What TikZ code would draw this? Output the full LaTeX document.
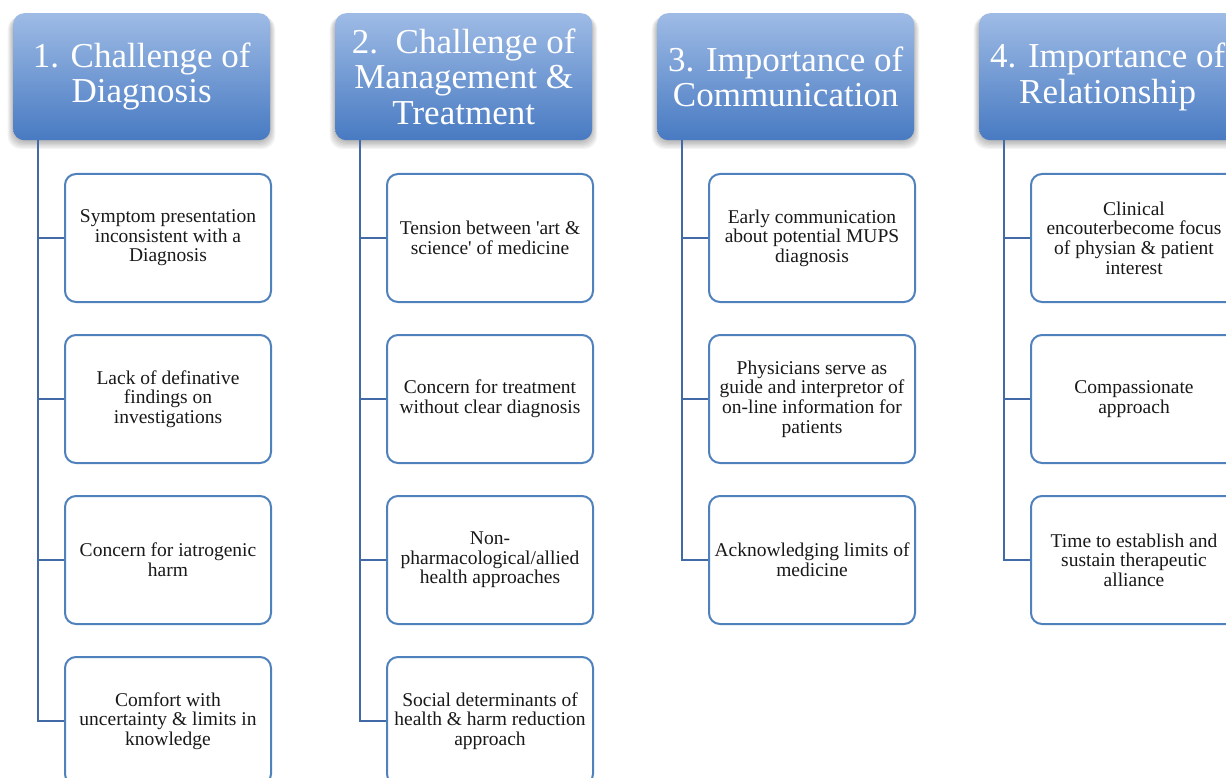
\documentclass[tikz,border=0pt]{standalone}
\usepackage{fontspec}
\setmainfont{Liberation Serif}
\definecolor{hdtop}{RGB}{158,187,229}
\definecolor{hdbot}{RGB}{72,122,194}
\definecolor{boxline}{RGB}{79,129,189}
\definecolor{connline}{RGB}{66,106,166}
\tikzset{
  hdr/.style={rounded corners=11pt, minimum width=257pt, minimum height=127pt,
    top color=hdtop, bottom color=hdbot, anchor=north west, inner sep=0pt,
    text=white, align=center, font=\fontsize{35}{35.5}\selectfont},
  shade layer/.style={fill=black, opacity=0.045, rounded corners=13pt},
  item/.style={rounded corners=11pt, draw=boxline, line width=2pt, fill=white,
    minimum width=206pt, minimum height=128pt, anchor=north west, inner sep=0pt,
    align=center, font=\fontsize{19.5}{19.6}\selectfont, text=black!90},
  conn/.style={draw=connline, line width=2pt}
}
\begin{document}
\begin{tikzpicture}[x=1pt,y=-1pt]
\useasboundingbox (0,0) rectangle (1226,778);
\clip (0,0) rectangle (1226,778);
\fill[white] (0,0) rectangle (1226,778);
% soft shadows under the headers
\foreach \hx in {13,335,657,979}{
  \foreach \i in {1,...,7}{
    \fill[shade layer] (\hx-0.9*\i+1,16) rectangle (\hx+257+0.9*\i-1,140+1.3*\i);
  }
}
% headers
\node[hdr] (h1) at (13,13) {1. Challenge of\\Diagnosis};
\node[hdr] (h2) at (335,13) {2.\ \ Challenge of\\Management \&\\Treatment};
\node[hdr] (h3) at (657,13) {3. Importance of\\Communication};
\node[hdr] (h4) at (979,13) {4. Importance of\\Relationship};
% column 1
\node[item] (c11) at (64,173) {Symptom presentation\\inconsistent with a\\Diagnosis};
\node[item] (c12) at (64,334) {Lack of definative\\findings on\\investigations};
\node[item] (c13) at (64,495) {Concern for iatrogenic\\harm};
\node[item] (c14) at (64,656) {Comfort with\\uncertainty \& limits in\\knowledge};
% column 2
\node[item] (c21) at (386,173) {Tension between \textquotesingle art \&\\science\textquotesingle\ of medicine};
\node[item] (c22) at (386,334) {Concern for treatment\\without clear diagnosis};
\node[item] (c23) at (386,495) {Non-\\pharmacological/allied\\health approaches};
\node[item] (c24) at (386,656) {Social determinants of\\health \& harm reduction\\approach};
% column 3
\node[item] (c31) at (708,173) {Early communication\\about potential MUPS\\diagnosis};
\node[item] (c32) at (708,334) {Physicians serve as\\guide and interpretor of\\on-line information for\\patients};
\node[item] (c33) at (708,495) {Acknowledging limits of\\medicine};
% column 4
\node[item] (c41) at (1030,173) {Clinical\\encouterbecome focus\\of physian \& patient\\interest};
\node[item] (c42) at (1030,334) {Compassionate\\approach};
\node[item] (c43) at (1030,495) {Time to establish and\\sustain therapeutic\\alliance};
% connectors
\foreach \h/\list in {h1/{c11,c12,c13,c14}, h2/{c21,c22,c23,c24}, h3/{c31,c32,c33}, h4/{c41,c42,c43}}{
  \foreach \c in \list {
    \draw[conn] ([xshift=25pt]\h.south west) |- (\c.west);
  }
}
\end{tikzpicture}
\end{document}
